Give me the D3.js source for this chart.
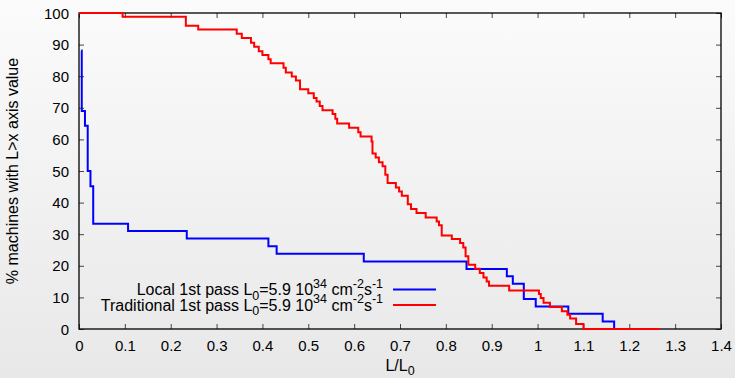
<!DOCTYPE html>
<html>
<head>
<meta charset="utf-8">
<script src="https://cdn.jsdelivr.net/npm/d3@7"></script>
<style>
  html, body { margin: 0; padding: 0; background: #f4f4f4; }
  svg { display: block; }
  text { font-family: "Liberation Sans", Arial, Helvetica, sans-serif; fill: #000; }
</style>
</head>
<body>
<svg id="chart" width="735" height="378"></svg>
<script>
// ---- data ----
const xTickValues = [0, 0.1, 0.2, 0.3, 0.4, 0.5, 0.6, 0.7, 0.8, 0.9, 1.0, 1.1, 1.2, 1.3, 1.4];
const xTickLabels = ["0", "0.1", "0.2", "0.3", "0.4", "0.5", "0.6", "0.7", "0.8", "0.9", "1", "1.1", "1.2", "1.3", "1.4"];
const yTickValues = [0, 10, 20, 30, 40, 50, 60, 70, 80, 90, 100];
const yTickLabels = ["0", "10", "20", "30", "40", "50", "60", "70", "80", "90", "100"];

// Local 1st pass (blue) : step positions (L/L0) and % after each step
const localX = [0.005, 0.006, 0.013, 0.019, 0.025, 0.031, 0.107, 0.235, 0.413, 0.431, 0.621, 0.845, 0.933, 0.946, 0.970, 0.996, 1.067, 1.142, 1.167, 1.267];
const localY = [88.1, 69.0, 64.3, 50.0, 45.2, 33.3, 31.0, 28.6, 26.2, 23.8, 21.4, 19.0, 16.7, 14.3, 9.5, 7.1, 4.8, 2.4, 0, 0];

// Traditional 1st pass (red)
const tradX = [0, 0.095, 0.233, 0.260, 0.344, 0.355, 0.375, 0.382, 0.392, 0.400, 0.413, 0.418, 0.446, 0.451, 0.464, 0.473, 0.482, 0.500, 0.512, 0.518, 0.525, 0.531, 0.553, 0.559, 0.563, 0.589, 0.609, 0.614, 0.638, 0.640, 0.647, 0.654, 0.662, 0.668, 0.673, 0.691, 0.698, 0.704, 0.717, 0.724, 0.736, 0.756, 0.780, 0.785, 0.791, 0.813, 0.831, 0.838, 0.843, 0.849, 0.864, 0.874, 0.882, 0.889, 0.894, 0.938, 1.003, 1.007, 1.013, 1.027, 1.053, 1.065, 1.071, 1.084, 1.100, 1.267];
const tradY = [100, 98.8, 96.0, 94.8, 93.4, 92.1, 90.6, 89.3, 87.9, 86.7, 85.4, 84.1, 82.7, 81.2, 79.9, 78.6, 75.9, 74.6, 73.1, 72.0, 70.6, 69.2, 68.0, 66.5, 65.0, 63.7, 62.3, 60.9, 59.3, 55.5, 54.3, 52.8, 51.5, 48.8, 46.2, 44.8, 43.5, 42.2, 39.5, 38.0, 36.7, 35.3, 34.0, 32.8, 29.6, 28.5, 27.2, 25.8, 23.0, 20.3, 19.1, 17.7, 16.3, 15.0, 13.7, 12.2, 11.1, 9.8, 8.3, 7.0, 5.6, 4.5, 3.3, 1.6, 0, 0];

// ---- layout ----
const W = 735, H = 378;
const margin = { left: 79, right: 14, top: 13, bottom: 49 };
const svg = d3.select("#chart");

const defs = svg.append("defs");
const grad = defs.append("linearGradient").attr("id", "bg").attr("x1", 0).attr("y1", 0).attr("x2", 0).attr("y2", 1);
grad.append("stop").attr("offset", "0%").attr("stop-color", "#fbfbfb");
grad.append("stop").attr("offset", "100%").attr("stop-color", "#e8e8e8");
svg.append("rect").attr("width", W).attr("height", H).attr("fill", "url(#bg)");

const x = d3.scaleLinear().domain([0, 1.4]).range([margin.left, W - margin.right]);
const y = d3.scaleLinear().domain([0, 100]).range([H - margin.bottom, margin.top]);

const fs = 15;      // tick labels
const fsT = 16;     // titles and legend
const fsS = 12.5;   // sub/superscripts

// ticks (inward, mirrored)
const tickLen = 5;
const tickColor = "#444";
const xAxisB = d3.axisBottom(x).tickValues(xTickValues).tickSize(-tickLen).tickPadding(11)
  .tickFormat((d, i) => xTickLabels[i]);
const gxb = svg.append("g").attr("transform", `translate(0,${y(0)})`).call(xAxisB);
const xAxisT = d3.axisTop(x).tickValues(xTickValues).tickSize(-tickLen).tickFormat("");
const gxt = svg.append("g").attr("transform", `translate(0,${y(100)})`).call(xAxisT);
const yAxisL = d3.axisLeft(y).tickValues(yTickValues).tickSize(-tickLen).tickPadding(10)
  .tickFormat((d, i) => yTickLabels[i]);
const gyl = svg.append("g").attr("transform", `translate(${x(0)},0)`).call(yAxisL);
const yAxisR = d3.axisRight(y).tickValues(yTickValues).tickSize(-tickLen).tickFormat("");
const gyr = svg.append("g").attr("transform", `translate(${x(1.4)},0)`).call(yAxisR);

[gxb, gxt, gyl, gyr].forEach(g => {
  g.select(".domain").remove();
  g.selectAll(".tick line").attr("stroke", tickColor).attr("stroke-width", 1);
  g.selectAll(".tick text").attr("font-size", fs).attr("fill", "#000")
    .attr("font-family", '"Liberation Sans", Arial, sans-serif');
});
gyl.selectAll(".tick text").attr("dy", "0.34em");

// border
svg.append("rect")
  .attr("x", x(0)).attr("y", y(100))
  .attr("width", x(1.4) - x(0)).attr("height", y(0) - y(100))
  .attr("fill", "none").attr("stroke", "#000").attr("stroke-width", 1.3);

// lines
const line = d3.line().x(d => x(d[0])).y(d => y(d[1])).curve(d3.curveStepAfter);
const localData = localX.map((v, i) => [v, localY[i]]);
const tradData = tradX.map((v, i) => [v, tradY[i]]);

svg.append("path").datum(localData).attr("d", line)
  .attr("fill", "none").attr("stroke", "#0000ff").attr("stroke-width", 2);
svg.append("path").datum(tradData).attr("d", line)
  .attr("fill", "none").attr("stroke", "#ff0000").attr("stroke-width", 2);

// legend
const legendTextX = 383;
const legendLineX1 = 393, legendLineX2 = 436;
const legendRows = [
  { label: "Local 1st pass L", color: "#0000ff", base: 295 },
  { label: "Traditional 1st pass L", color: "#ff0000", base: 310.5 }
];
legendRows.forEach(r => {
  const t = svg.append("text").attr("x", legendTextX).attr("y", r.base)
    .attr("text-anchor", "end").attr("font-size", fsT);
  t.append("tspan").text(r.label);
  t.append("tspan").attr("dy", 4.5).attr("font-size", fsS).text("0");
  t.append("tspan").attr("dy", -4.5).text("=5.9 10");
  t.append("tspan").attr("dy", -7.5).attr("font-size", fsS).text("34");
  t.append("tspan").attr("dy", 7.5).text(" cm");
  t.append("tspan").attr("dy", -7.5).attr("font-size", fsS).text("-2");
  t.append("tspan").attr("dy", 7.5).text("s");
  t.append("tspan").attr("dy", -7.5).attr("font-size", fsS).text("-1");
  svg.append("line")
    .attr("x1", legendLineX1).attr("x2", legendLineX2)
    .attr("y1", r.base - 5.5).attr("y2", r.base - 5.5)
    .attr("stroke", r.color).attr("stroke-width", 2);
});

// axis titles
const xl = svg.append("text").attr("x", (x(0) + x(1.4)) / 2).attr("y", 371)
  .attr("text-anchor", "middle").attr("font-size", fsT);
xl.append("tspan").text("L/L");
xl.append("tspan").attr("dy", 3.5).attr("font-size", fsS).text("0");

svg.append("text")
  .attr("transform", `translate(18,${(y(0) + y(100)) / 2}) rotate(-90)`)
  .attr("text-anchor", "middle").attr("font-size", fsT)
  .text("% machines with L>x axis value");
</script>
</body>
</html>
